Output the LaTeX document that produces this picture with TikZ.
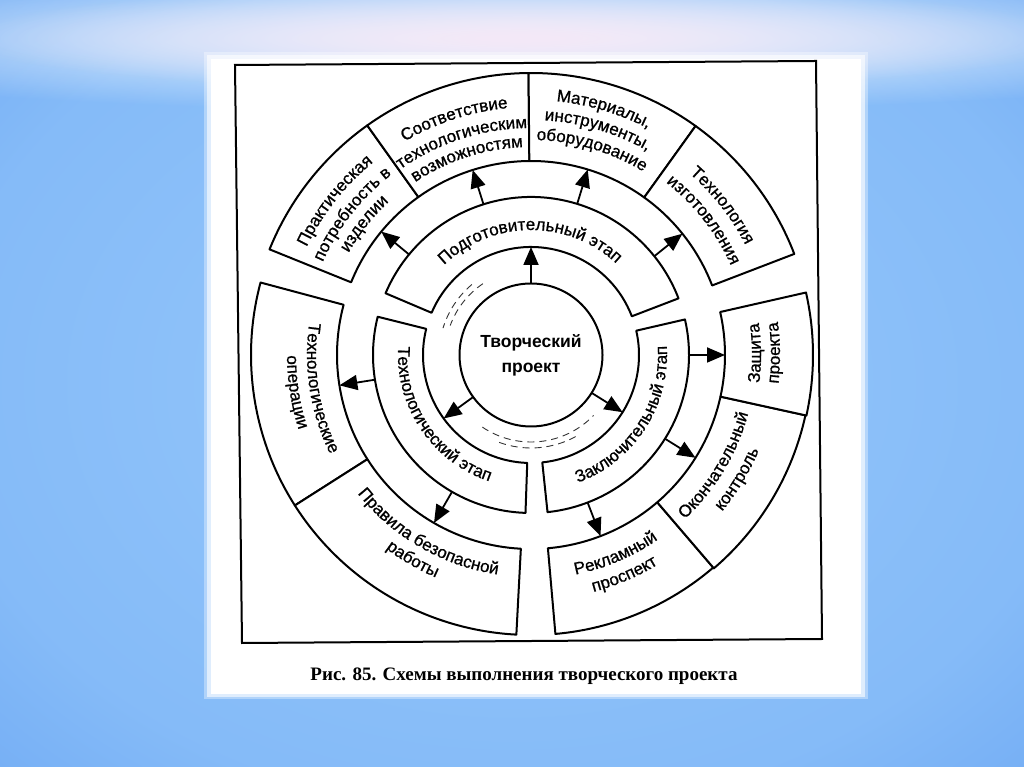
\documentclass[tikz,border=0pt]{standalone}
\usepackage{fontspec}
\setmainfont{Liberation Sans}
\newfontfamily\lblfont[FakeBold=0.9]{Liberation Sans}
\newfontfamily\capfont{Liberation Serif}
\usetikzlibrary{calc,arrows.meta,decorations.text,fadings}
\definecolor{bgin}{RGB}{150,200,251}
\definecolor{bgout}{RGB}{92,155,240}
\definecolor{glowc}{RGB}{244,232,247}
\pgfdeclareradialshading{bgshade}{\pgfpointorigin}{color(0bp)=(bgin); color(28bp)=(bgin!70!bgout); color(50bp)=(bgout); color(75bp)=(bgout)}
\tikzfading[name=glowfade, inner color=transparent!0, outer color=transparent!100]
\newcommand\lbl{\lblfont\fontsize{17}{20}\selectfont}
\newcommand\cwtext[3]{\path[decorate,decoration={text along path,text align=center,text={|\lbl|#3}}] ($(C)+({#1+55}:#2)$) arc[start angle={#1+55},end angle={#1-55},radius=#2];}
\newcommand\ccwtext[3]{\path[decorate,decoration={text along path,text align=center,text={|\lbl|#3}}] ($(C)+({#1-55}:#2)$) arc[start angle={#1-55},end angle={#1+55},radius=#2];}
\newcommand\annsec[4]{\draw[seg] ($(C)+(#1:#3)$) arc[start angle=#1,end angle=#2,radius=#3] -- ($(C)+(#2:#4)$) arc[start angle=#2,end angle=#1,radius=#4] -- cycle;}
\begin{document}
\begin{tikzpicture}[x=1pt,y=1pt,
  seg/.style={draw=black,line width=2pt,fill=white,line join=round},
  arr/.style={-{Triangle[length=18pt,width=15pt]},line width=1.8pt},
  deco/.style={line width=0.9pt,dash pattern=on 7pt off 5pt,black!80}]
\useasboundingbox (0,0) rectangle (1024,767);
% background
\shade[shading=bgshade] (0,0) rectangle (1024,767);
\fill[white,opacity=0.85,path fading=glowfade] (520,729) ellipse [x radius=860,y radius=74];
\fill[glowc,path fading=glowfade] (520,729) ellipse [x radius=560,y radius=54];
% white panel
\fill[white,opacity=0.35] (204,68) rectangle (868,715);
\fill[white,opacity=0.6] (207,70) rectangle (865,712);
\fill[white] (211,73) rectangle (861,708);
% frame
\draw[line width=2pt] (235,702) -- (816,706) -- (822,128) -- (242,124) -- cycle;
\coordinate (C) at (531,412);
% outer ring
\annsec{125.5}{158}{194}{282}
\annsec{90.5}{125.5}{194}{282}
\annsec{54.3}{90.5}{194}{282}
\annsec{21}{54.3}{194}{282}
\annsec{165}{212.5}{194}{280}
\annsec{212.5}{267}{194}{280}
\annsec{-85}{-49.4}{194}{280}
\annsec{-49.4}{-12.4}{194}{281}
\annsec{-12.4}{12.8}{194}{282}
% stage ring
\annsec{21}{157}{108}{158}
\annsec{166}{268}{108}{158}
\annsec{-84}{13}{108}{158}
% centre
\node[circle,draw,line width=2pt,minimum size=143pt,inner sep=0pt,outer sep=0pt,align=center,
  font=\bfseries\fontsize{17.5}{25}\selectfont] (proj) at (C) {Творческий\\проект};
\draw[deco] ($(C)+(124:86)$) arc[start angle=124,end angle=160,radius=86];
\draw[deco] ($(C)+(130:92)$) arc[start angle=130,end angle=163,radius=92];
\draw[deco] ($(C)+(236:87)$) arc[start angle=236,end angle=316,radius=87];
\draw[deco] ($(C)+(250:93)$) arc[start angle=250,end angle=300,radius=93];
% arrows
\foreach \n/\a in {1/90,2/216,3/328} {
  \coordinate (ce\n) at ($(C)+(\a:108)$);
  \draw[arr] (proj.\a) -- (ce\n);
}
\foreach \n/\a in {4/140.5,5/107.5,6/73,7/38.7,8/189,9/240,10/0,11/-32,12/-69} {
  \coordinate (os\n) at ($(C)+(\a:158)$);
  \coordinate (oe\n) at ($(C)+(\a:194)$);
  \draw[arr] (os\n) -- (oe\n);
}
% texts
\cwtext{90.5}{125}{Подготовительный этап}
\ccwtext{214}{133}{Технологический этап}
\ccwtext{-33}{136}{Заключительный этап}
\cwtext{141.8}{249}{Практическая}
\cwtext{141.8}{228}{потребность в}
\cwtext{141.8}{209}{изделии}
\cwtext{108}{248}{Соответствие}
\cwtext{108}{227}{технологическим}
\cwtext{108}{208}{возможностям}
\cwtext{73.5}{255}{Материалы,}
\cwtext{73.5}{235}{инструменты,}
\cwtext{73.5}{215}{оборудование}
\cwtext{38}{241}{Технология}
\cwtext{38}{219}{изготовления}
\ccwtext{189}{224}{Технологические}
\ccwtext{189}{244}{операции}
\ccwtext{240}{222}{Правила безопасной}
\ccwtext{240}{242}{работы}
\ccwtext{-67}{224}{Рекламный}
\ccwtext{-67}{245}{проспект}
\ccwtext{-31}{225}{Окончательный}
\ccwtext{-31}{247}{контроль}
\ccwtext{0.5}{230}{Защита}
\ccwtext{0.5}{249}{проекта}
% caption
\node[font=\capfont\bfseries\fontsize{19}{22}\selectfont] (cap) at (524,91) {Рис. 85. Схемы выполнения творческого проекта};
\end{tikzpicture}
\end{document}
